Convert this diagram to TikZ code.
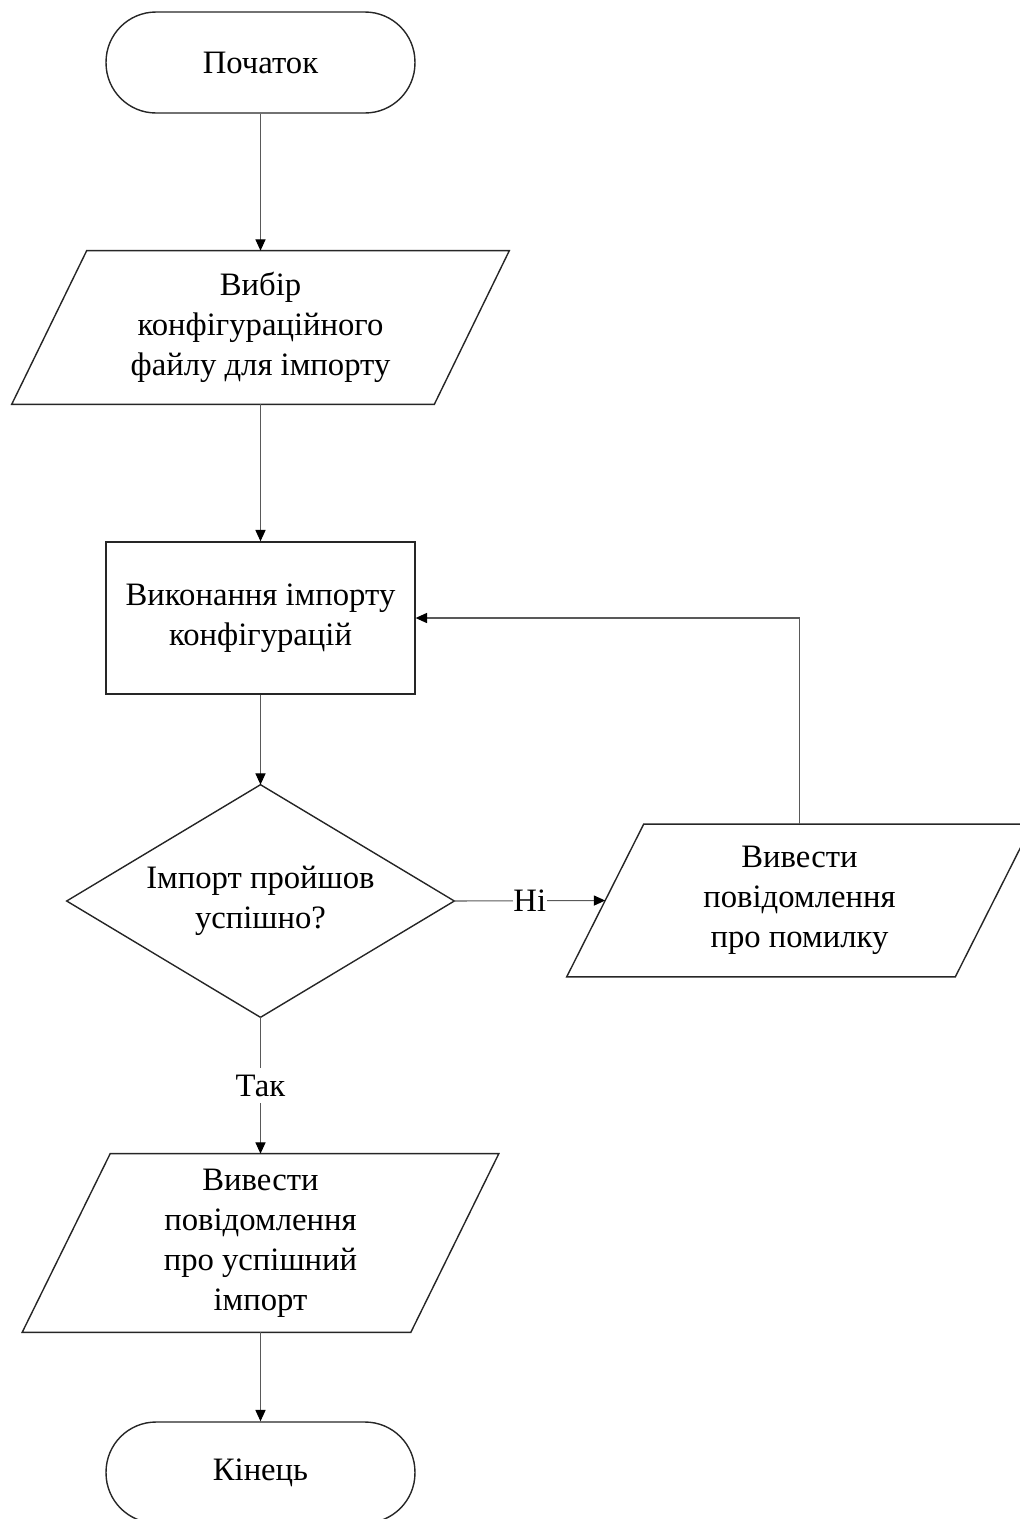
\documentclass[tikz,border=0pt]{standalone}
\usepackage{fontspec}
\setmainfont{Liberation Serif}
\usetikzlibrary{arrows.meta,calc}
\begin{document}
\begin{tikzpicture}[x=0.02cm,y=-0.02cm,
  font=\fontsize{18.6}{22.7}\selectfont,
  shapeline/.style={draw=black!85, line width=0.8pt},
  term/.style={shapeline, rectangle, rounded corners=1.0cm, minimum width=6.18cm, minimum height=2.02cm, align=center},
  proc/.style={shapeline, rectangle, minimum width=6.18cm, minimum height=3.04cm, align=center},
  iobox/.style={rectangle, inner sep=0pt, align=center},
  decbox/.style={rectangle, inner sep=0pt, align=center, minimum width=7.74cm, minimum height=4.64cm},
  conn/.style={draw=black!65, line width=0.6pt, -{Triangle[length=6.5pt,width=5.8pt,color=black]}},
  lbl/.style={fill=white, inner xsep=0.5pt, inner ysep=4pt, text=black}
]
\useasboundingbox (0,0) rectangle (1020,1519);
\clip (0,0) rectangle (1020,1519);

% nodes
\node[term] (start) at (260.5,62.5) {Початок};
\node[iobox, minimum width=8.44cm, minimum height=3.06cm] (p1) at (260.5,327.5) {Вибір\\конфігураційного\\файлу для імпорту};
\node[proc] (work) at (260.5,618) {Виконання імпорту\\конфігурацій};
\node[decbox] (dec) at (260.5,901) {Імпорт пройшов\\успішно?};
\node[iobox, minimum width=7.76cm, minimum height=3.04cm] (p2) at (799.5,900.5) {Вивести\\повідомлення\\про помилку};
\node[iobox, minimum width=7.76cm, minimum height=3.56cm] (p3) at (260.5,1243) {Вивести\\повідомлення\\про успішний\\імпорт};
\node[term] (finish) at (260.5,1472.5) {Кінець};

% outlines of parallelograms and diamond
\draw[shapeline] ($(p1.north west)+(0.75cm,0)$) -- ($(p1.north east)+(0.75cm,0)$) -- ($(p1.south east)+(-0.75cm,0)$) -- ($(p1.south west)+(-0.75cm,0)$) -- cycle;
\draw[shapeline] ($(p2.north west)+(0.77cm,0)$) -- ($(p2.north east)+(0.77cm,0)$) -- ($(p2.south east)+(-0.77cm,0)$) -- ($(p2.south west)+(-0.77cm,0)$) -- cycle;
\draw[shapeline] ($(p3.north west)+(0.88cm,0)$) -- ($(p3.north east)+(0.88cm,0)$) -- ($(p3.south east)+(-0.88cm,0)$) -- ($(p3.south west)+(-0.88cm,0)$) -- cycle;
\draw[shapeline] (dec.north) -- (dec.east) -- (dec.south) -- (dec.west) -- cycle;

% connectors
\draw[conn] (start.south) -- (p1.north);
\draw[conn] (p1.south) -- (work.north);
\draw[conn] (work.south) -- (dec.north);
\draw[conn] (dec.east) -- node[lbl] {Ні} (p2.west);
\draw[conn] (dec.south) -- node[lbl] {Так} (p3.north);
\draw[conn] (p3.south) -- (finish.north);
\draw[conn] (p2.north) |- (work.east);
\end{tikzpicture}
\end{document}
